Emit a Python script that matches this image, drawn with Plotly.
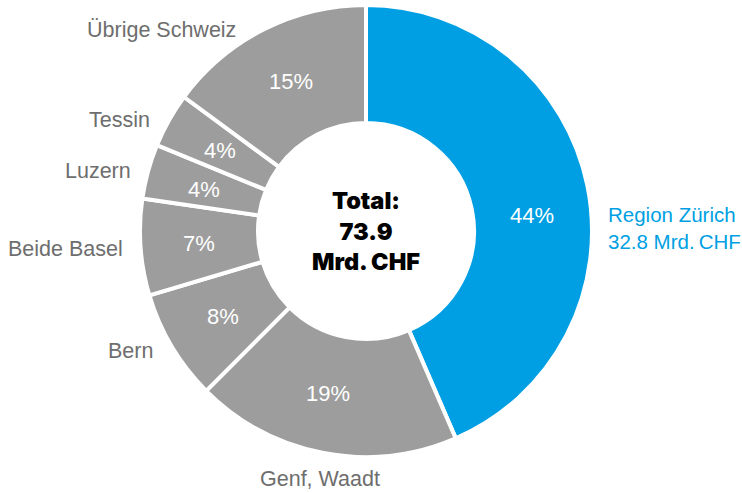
import math
import plotly.graph_objects as go

# Data (shares, in %)
regions = ["Region Zürich", "Genf, Waadt", "Bern", "Beide Basel", "Luzern", "Tessin", "Übrige Schweiz"]
shares = [43.5, 19.0, 7.9, 6.9, 3.9, 3.9, 14.9]
pct_labels = ["44%", "19%", "8%", "7%", "4%", "4%", "15%"]
total_label = "Total:<br>73.9<br>Mrd.\u2009CHF"
zurich_value = "32.8 Mrd.\u2009CHF"

BLUE = "#009fe3"
GREY = "#9d9d9d"
LABEL_GREY = "#6e6e6e"
colors = [BLUE] + [GREY] * 6

W, H = 742, 493
ML, MR, MT, MB = 140, 150, 5, 36
PW, PH = W - ML - MR, H - MT - MB
HOLE = 0.478

fig = go.Figure(go.Pie(
    labels=regions,
    values=shares,
    textinfo="none",
    marker=dict(colors=colors, line=dict(color="white", width=4)),
    hole=HOLE,
    sort=False,
    direction="clockwise",
    rotation=0,
    hoverinfo="label+percent",
))

def px(x, y):
    return (x - ML) / PW, (H - MB - y) / PH

annotations = []

# percentage labels at mid-ring radius along each slice's mid angle
angle_nudge = [6.5, 2.5, 0, 0, -1, -0.5, 0]   # small angular offsets (deg) of label placement
total = sum(shares)
cum = 0.0
r_mid = 0.5 * (1 + HOLE) / 2
for s, t, nd in zip(shares, pct_labels, angle_nudge):
    mid = (cum + s / 2) / total * 360 + nd
    cum += s
    a = math.radians(mid)
    x = 0.5 + r_mid * math.sin(a)
    y = 0.5 + r_mid * math.cos(a)
    annotations.append(dict(
        text=t, x=x, y=y, xref="paper", yref="paper",
        xanchor="center", yanchor="middle", showarrow=False,
        font=dict(size=22, color="white", family="Liberation Sans"),
    ))

# outside labels: (text, pixel x, pixel y, xanchor, color, size)
label_pos = [
    ("Region Zürich<br>" + zurich_value, 606, 228, "left", BLUE, 20.5),
    ("Genf, Waadt", 320, 479, "center", LABEL_GREY, 21.5),
    ("Bern", 155, 351, "right", LABEL_GREY, 21.5),
    ("Beide Basel", 125, 249, "right", LABEL_GREY, 21.5),
    ("Luzern", 133, 171, "right", LABEL_GREY, 21.5),
    ("Tessin", 152, 120, "right", LABEL_GREY, 21.5),
    ("Übrige Schweiz", 238, 30, "right", LABEL_GREY, 21.5),
]
for txt, x, y, xa, col, sz in label_pos:
    ax, ay = px(x, y)
    annotations.append(dict(
        text=txt, x=ax, y=ay, xref="paper", yref="paper",
        xanchor=xa, yanchor="middle", showarrow=False, align="left",
        font=dict(size=sz, color=col, family="Liberation Sans"),
    ))

annotations.append(dict(
    text=total_label, x=0.5, y=0.5, xref="paper", yref="paper",
    xanchor="center", yanchor="middle", showarrow=False, align="center",
    font=dict(size=23.5, color="black", family="Inter", weight=900),
))

fig.update_layout(
    width=W, height=H,
    margin=dict(l=ML, r=MR, t=MT, b=MB, pad=0),
    showlegend=False,
    paper_bgcolor="white",
    plot_bgcolor="white",
    annotations=annotations,
)

fig.write_html("out.html", config={"displayModeBar": False},
               post_script="document.body.style.margin='0';")
